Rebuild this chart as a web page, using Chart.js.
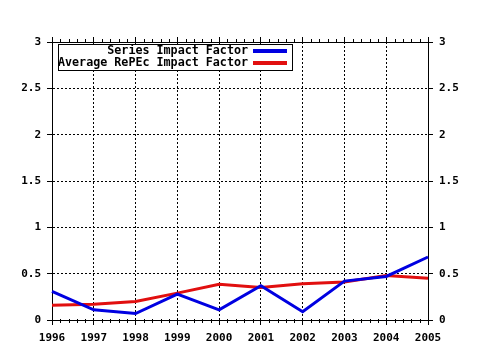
<!DOCTYPE html>
<html>
<head>
<meta charset="utf-8">
<script src="https://cdn.jsdelivr.net/npm/chart.js@4/dist/chart.umd.min.js"></script>
<style>
  html, body { margin: 0; padding: 0; background: #fff; }
  #wrap { width: 480px; height: 350px; }
</style>
</head>
<body>
<div id="wrap"><canvas id="c" width="480" height="350"></canvas></div>
<script>
const years = ['1996', '1997', '1998', '1999', '2000', '2001', '2002', '2003', '2004', '2005'];
const seriesImpact = [0.31, 0.11, 0.07, 0.28, 0.11, 0.37, 0.09, 0.42, 0.47, 0.68];
const avgRepecImpact = [0.16, 0.17, 0.20, 0.29, 0.385, 0.35, 0.39, 0.41, 0.48, 0.45];
const yTicks = [0, 0.5, 1, 1.5, 2, 2.5, 3];

const FONT = '"DejaVu Sans Mono", monospace';

// legend drawn inside plot, text right-aligned with line sample on the right
const boxLegend = {
  id: 'boxLegend',
  afterDraw(chart) {
    const ctx = chart.ctx;
    const area = chart.chartArea;
    const x0 = area.left + 6, y0 = area.top + 2;
    const w = 234, h = 26;
    ctx.save();
    ctx.fillStyle = '#fff';
    ctx.fillRect(x0, y0, w, h);
    ctx.strokeStyle = '#000';
    ctx.lineWidth = 1;
    ctx.strokeRect(x0 + 0.5, y0 + 0.5, w, h);
    ctx.font = 'bold 11.7px ' + FONT;
    ctx.textAlign = 'right';
    ctx.textBaseline = 'middle';
    chart.data.datasets.forEach((ds, i) => {
      const yy = y0 + 7 + i * 12;
      ctx.fillStyle = '#000';
      ctx.fillText(ds.label, x0 + 190, yy);
      ctx.strokeStyle = ds.borderColor;
      ctx.lineWidth = 4;
      ctx.beginPath();
      ctx.moveTo(x0 + 195, yy);
      ctx.lineTo(x0 + 229, yy);
      ctx.stroke();
    });
    // minor ticks on top and bottom axes
    const xs = chart.scales.x;
    ctx.strokeStyle = '#000';
    ctx.lineWidth = 1;
    for (let i = 0; i < years.length - 1; i++) {
      for (let k = 1; k < 5; k++) {
        const px = Math.round(xs.getPixelForValue(i + k / 5)) + 0.5;
        ctx.beginPath();
        ctx.moveTo(px, area.top - 3);
        ctx.lineTo(px, area.top + 1);
        ctx.moveTo(px, area.bottom - 1);
        ctx.lineTo(px, area.bottom + 3);
        ctx.stroke();
      }
    }
    ctx.restore();
  }
};

const yAxis = (pos) => ({
  type: 'linear',
  position: pos,
  min: 0,
  max: 3,
  afterBuildTicks: (s) => { s.ticks = yTicks.map(v => ({ value: v })); },
  afterFit: (s) => { s.width = 52; },
  border: { display: true, color: '#000', width: 1, dash: [2, 2] },
  grid: {
    display: true,
    drawOnChartArea: pos === 'left',
    color: '#000',
    lineWidth: 1,
    tickLength: 5,
    tickBorderDash: [],
    tickColor: '#000'
  },
  ticks: {
    color: '#000',
    font: { family: FONT, size: 11, weight: 'bold' },
    padding: 6,
    callback: (v) => String(v)
  }
});

new Chart(document.getElementById('c'), {
  type: 'line',
  data: {
    labels: years,
    datasets: [
      { label: 'Series Impact Factor', data: seriesImpact, borderColor: 'rgb(0,0,225)', borderWidth: 3, pointRadius: 0, tension: 0, yAxisID: 'y' },
      { label: 'Average RePEc Impact Factor', data: avgRepecImpact, borderColor: 'rgb(225,15,15)', borderWidth: 3, pointRadius: 0, tension: 0, yAxisID: 'y' }
    ]
  },
  options: {
    responsive: false,
    animation: false,
    layout: { padding: { top: 37, left: 0, right: 0, bottom: 0 } },
    plugins: { legend: { display: false }, tooltip: { enabled: false } },
    scales: {
      x: {
        type: 'category',
        position: 'bottom',
        offset: false,
        afterFit: (s) => { s.height = 30; },
        border: { display: true, color: '#000', width: 1, dash: [2, 2] },
        grid: { color: '#000', lineWidth: 1, tickLength: 5, tickBorderDash: [], tickColor: '#000' },
        ticks: { color: '#000', font: { family: FONT, size: 11, weight: 'bold' }, maxRotation: 0, autoSkip: false, padding: 7 }
      },
      x2: {
        type: 'category',
        position: 'top',
        offset: false,
        afterFit: (s) => { s.height = 5; },
        border: { display: true, color: '#000', width: 1 },
        grid: { drawOnChartArea: false, color: '#000', tickLength: 5 },
        ticks: { display: false }
      },
      y: yAxis('left'),
      y2: yAxis('right')
    }
  },
  plugins: [boxLegend]
});
</script>
</body>
</html>
